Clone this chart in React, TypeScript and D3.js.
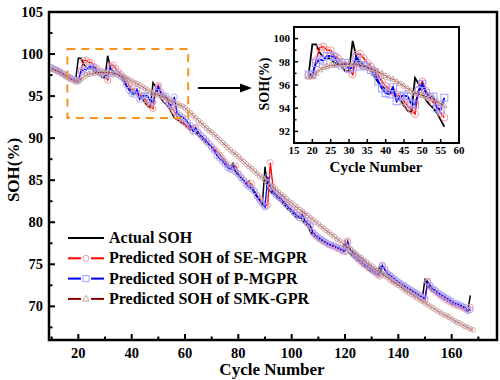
import React from 'react';
import * as d3 from 'd3';

const START_CYCLE = 10;

const actualSOH = [
  98.3, 98.2, 98.0, 97.9, 97.7, 97.5, 97.3, 97.2, 97.0, 96.9,
  99.5, 99.5, 98.8, 98.4, 98.3, 98.3, 97.9, 97.8, 97.6, 97.2,
  97.2, 99.8, 98.4, 98.0, 97.7, 97.5, 97.2, 96.7, 96.2, 95.9,
  95.6, 95.4, 95.3, 95.0, 94.7, 94.2, 93.8, 93.6, 96.6, 96.1,
  95.4, 94.7, 94.3, 94.0, 93.6, 93.0, 92.4, 92.2, 92.0, 91.8,
  91.6, 91.3, 91.0, 91.4, 90.7, 90.4, 90.1, 89.8, 89.5, 89.2,
  89.0, 88.7, 88.4, 88.1, 87.7, 87.3, 86.9, 86.5, 87.0, 86.0,
  85.6, 85.3, 85.0, 84.6, 84.9, 84.0, 83.5, 83.0, 82.6, 82.1,
  86.6, 84.0, 83.7, 83.4, 83.1, 82.8, 82.5, 82.2, 81.8, 81.5,
  81.2, 80.9, 80.5, 80.9, 80.2, 79.9, 79.6, 78.9, 78.5, 78.2,
  78.0, 77.8, 77.6, 77.4, 77.3, 77.2, 77.0, 76.9, 76.8, 76.6,
  77.7, 76.5, 76.2, 75.9, 75.6, 75.4, 75.1, 74.8, 74.6, 74.3,
  74.1, 73.9, 73.7, 74.8, 73.9, 73.7, 73.5, 73.3, 73.0, 72.8,
  72.6, 72.4, 72.2, 72.0, 71.8, 71.6, 71.4, 71.3, 71.1, 70.9,
  73.3, 72.4, 72.1, 71.8, 71.6, 71.3, 71.1, 70.9, 70.7, 70.5,
  70.3, 70.2, 70.0, 69.9, 69.8, 69.6, 69.4, 71.3,
];

const seMgpr = [
  98.3, 98.2, 98.0, 97.9, 97.7, 97.5, 97.3, 97.2, 97.0, 96.8,
  96.9, 98.1, 99.2, 99.3, 99.0, 99.0, 98.5, 98.3, 98.0, 97.7,
  97.4, 96.9, 98.6, 98.7, 98.3, 97.9, 97.6, 97.2, 96.8, 96.3,
  95.9, 95.6, 95.4, 95.2, 95.0, 94.6, 94.2, 93.9, 93.5, 95.6,
  96.3, 95.5, 94.9, 94.5, 94.2, 93.6, 93.2, 92.6, 92.3, 92.0,
  91.8, 91.5, 91.2, 90.9, 91.3, 90.6, 90.3, 90.0, 89.6, 89.3,
  89.0, 88.7, 88.4, 88.0, 87.6, 87.2, 86.8, 86.4, 86.2, 86.7,
  85.8, 85.4, 85.0, 84.7, 84.4, 84.6, 83.7, 83.2, 82.8, 82.3,
  82.0, 82.0, 87.1, 84.2, 83.5, 83.1, 82.8, 82.5, 82.1, 81.8,
  81.5, 81.2, 80.8, 80.5, 81.0, 80.1, 79.8, 79.5, 78.7, 78.4,
  78.1, 77.9, 77.7, 77.5, 77.3, 77.2, 77.1, 76.9, 76.8, 76.6,
  76.5, 77.8, 76.7, 76.2, 75.9, 75.6, 75.3, 75.0, 74.8, 74.5,
  74.3, 74.1, 73.8, 73.6, 74.8, 74.4, 73.8, 73.5, 73.2, 73.0,
  72.8, 72.6, 72.4, 72.2, 72.0, 71.8, 71.6, 71.4, 71.2, 71.0,
  70.8, 73.0, 72.3, 72.0, 71.7, 71.5, 71.2, 71.0, 70.8, 70.6,
  70.4, 70.2, 70.1, 70.0, 69.9, 69.7, 69.5, 69.9,
];

const pMgpr = [
  98.4, 98.2, 98.1, 97.9, 97.7, 97.5, 97.3, 97.1, 97.0, 96.9,
  96.9, 97.9, 98.2, 98.1, 98.5, 98.5, 98.4, 97.9, 97.7, 97.9,
  97.4, 97.5, 98.4, 97.6, 97.7, 97.6, 97.3, 97.1, 96.3, 95.7,
  95.3, 95.2, 95.8, 94.6, 95.0, 95.1, 95.0, 94.4, 94.3, 95.5,
  96.1, 95.3, 95.0, 95.0, 94.0, 93.9, 94.9, 93.0, 92.7, 92.5,
  92.3, 91.9, 91.5, 90.8, 91.2, 90.7, 90.3, 90.0, 89.7, 89.3,
  88.9, 88.5, 87.9, 87.6, 87.3, 86.9, 86.5, 86.3, 86.6, 86.0,
  85.7, 85.3, 85.0, 84.5, 84.2, 84.0, 83.7, 83.1, 82.6, 82.2,
  81.8, 85.4, 84.2, 83.6, 83.3, 83.0, 82.8, 82.4, 82.1, 81.7,
  81.5, 81.1, 80.8, 80.5, 80.9, 80.2, 79.9, 79.6, 78.8, 78.5,
  78.2, 78.0, 77.8, 77.6, 77.4, 77.3, 77.2, 77.0, 76.9, 76.7,
  76.6, 77.6, 76.7, 76.3, 76.0, 75.7, 75.5, 75.2, 74.9, 74.7,
  74.4, 74.2, 74.0, 73.8, 74.9, 74.3, 73.9, 73.7, 73.4, 73.2,
  72.9, 72.7, 72.5, 72.3, 72.1, 71.9, 71.7, 71.5, 71.3, 71.1,
  70.9, 72.9, 72.5, 72.1, 71.9, 71.6, 71.4, 71.2, 71.0, 70.8,
  70.6, 70.4, 70.3, 70.2, 70.0, 69.9, 69.5, 69.6,
];

const smkGpr = [
  98.2, 98.1, 98.0, 97.8, 97.6, 97.4, 97.2, 97.0, 96.9, 96.7,
  96.7, 97.0, 97.3, 97.5, 97.6, 97.7, 97.7, 97.8, 97.8, 97.8,
  97.8, 97.8, 97.8, 97.7, 97.6, 97.5, 97.4, 97.3, 97.1, 97.0,
  96.8, 96.6, 96.5, 96.3, 96.1, 95.9, 95.7, 95.5, 95.3, 95.2,
  95.1, 95.0, 94.9, 94.8, 94.6, 94.4, 94.2, 94.1, 93.9, 93.8,
  93.6, 93.3, 93.0, 92.7, 92.4, 92.1, 91.8, 91.5, 91.2, 90.9,
  90.7, 90.4, 90.1, 89.8, 89.5, 89.2, 88.9, 88.6, 88.3, 88.1,
  87.8, 87.5, 87.2, 86.9, 86.6, 86.4, 86.1, 85.8, 85.5, 85.3,
  85.0, 84.7, 84.4, 84.2, 83.9, 83.6, 83.3, 83.1, 82.8, 82.5,
  82.3, 82.0, 81.8, 81.5, 81.3, 81.0, 80.8, 80.5, 80.3, 80.0,
  79.8, 79.5, 79.3, 79.0, 78.8, 78.5, 78.3, 78.0, 77.8, 77.5,
  77.3, 77.0, 76.8, 76.5, 76.3, 76.0, 75.8, 75.5, 75.3, 75.0,
  74.8, 74.5, 74.3, 74.1, 73.8, 73.6, 73.4, 73.1, 72.9, 72.7,
  72.5, 72.3, 72.0, 71.8, 71.6, 71.4, 71.2, 71.0, 70.8, 70.6,
  70.4, 70.2, 70.0, 69.8, 69.6, 69.4, 69.2, 69.0, 68.9, 68.7,
  68.5, 68.3, 68.1, 68.0, 67.8, 67.6, 67.5, 67.3, 67.2,
];

const mainXTicks = [20, 40, 60, 80, 100, 120, 140, 160];
const mainXMinor = [10, 30, 50, 70, 90, 110, 130, 150, 170];
const mainYTicks = [70, 75, 80, 85, 90, 95, 100, 105];
const mainYMinor = [67.5, 72.5, 77.5, 82.5, 87.5, 92.5, 97.5, 102.5];
const insetXTicks = [15, 20, 25, 30, 35, 40, 45, 50, 55, 60];
const insetYTicks = [92, 94, 96, 98, 100];
const insetYMinor = [91, 93, 95, 97, 99];
const zoomBox = { x0: 15.9, x1: 61.2, y0: 92.4, y1: 100.6 };
const insetRange = [19, 56];

const legendLabels = [
  'Actual SOH',
  'Predicted SOH of SE-MGPR',
  'Predicted SOH of P-MGPR',
  'Predicted SOH of SMK-GPR',
];

const FONT = '"Liberation Serif", "DejaVu Serif", serif';

type P = [number, number];
const toPts = (arr: number[]): P[] => arr.map((v, i) => [START_CYCLE + i, v]);

export default function App() {
  const x = d3.scaleLinear().domain([9, 177]).range([49, 497]);
  const y = d3.scaleLinear().domain([66, 105]).range([340, 12]);
  const xi = d3.scaleLinear().domain([15, 60]).range([294, 459]);
  const yi = d3.scaleLinear().domain([91, 101]).range([143, 27]);

  const act = toPts(actualSOH);
  const se = toPts(seMgpr);
  const pm = toPts(pMgpr);
  const smk = toPts(smkGpr);

  const lineMain = d3.line<P>().x(d => x(d[0])).y(d => y(d[1]));
  const lineIn = d3.line<P>().x(d => xi(d[0])).y(d => yi(d[1]));
  const sub = (pts: P[]) => pts.filter(p => p[0] >= insetRange[0] && p[0] <= insetRange[1]);

  const redC = '#ff0000', redM = '#f49a9a';
  const blueC = '#0000ff', blueM = '#a0a0ff';
  const brownC = '#800000', brownM = '#c9a0a0';

  const tri = (cx: number, cy: number, s: number) =>
    `M${cx},${cy - s}L${cx + s * 0.9},${cy + s * 0.6}L${cx - s * 0.9},${cy + s * 0.6}Z`;

  const txt: React.CSSProperties = { fontFamily: FONT, fontWeight: 700 };

  return (
    <svg width={500} height={380} style={{ position: 'absolute', left: 0, top: 0, background: '#fff', fontFamily: FONT, fontWeight: 700 }}>
      <rect x={0} y={0} width={500} height={380} fill="#fff" />

      {/* main series */}
      <path d={lineMain(act) || ''} fill="none" stroke="#000" strokeWidth={1.5} />
      <path d={lineMain(se) || ''} fill="none" stroke={redC} strokeWidth={1.3} />
      {se.map((p, i) => (
        <circle key={'rs' + i} cx={x(p[0])} cy={y(p[1])} r={3} fill="none" stroke={redM} strokeWidth={0.9} />
      ))}
      <path d={lineMain(pm) || ''} fill="none" stroke={blueC} strokeWidth={1.3} />
      {pm.map((p, i) => (
        <circle key={'bs' + i} cx={x(p[0])} cy={y(p[1])} r={3} fill="none" stroke={blueM} strokeWidth={0.9} />
      ))}
      <path d={lineMain(smk) || ''} fill="none" stroke={brownC} strokeWidth={0.8} />
      {smk.map((p, i) => (
        <circle key={'ks' + i} cx={x(p[0])} cy={y(p[1])} r={2.4} fill="none" stroke={brownM} strokeWidth={0.9} />
      ))}

      {/* zoom box */}
      <rect x={x(zoomBox.x0)} y={y(zoomBox.y1)} width={x(zoomBox.x1) - x(zoomBox.x0)}
        height={y(zoomBox.y0) - y(zoomBox.y1)} fill="none" stroke="#f7931e" strokeWidth={2}
        strokeDasharray="8,6" />
      {/* arrow */}
      <line x1={198} y1={88} x2={242} y2={88} stroke="#000" strokeWidth={2} />
      <path d="M240,83.5L252,88L240,92.5Z" fill="#000" />

      {/* main frame and axes */}
      <rect x={49} y={12} width={448} height={328} fill="none" stroke="#000" strokeWidth={2.5} />
      {mainXTicks.map(t => (
        <g key={'xt' + t}>
          <line x1={x(t)} x2={x(t)} y1={340} y2={334} stroke="#000" strokeWidth={2} />
          <text x={x(t)} y={358} textAnchor="middle" fontSize={14.5} style={txt}>{t}</text>
        </g>
      ))}
      {mainXMinor.map(t => (
        <line key={'xm' + t} x1={x(t)} x2={x(t)} y1={340} y2={336.5} stroke="#000" strokeWidth={2} />
      ))}
      {mainYTicks.map(t => (
        <g key={'yt' + t}>
          <line x1={49} x2={55} y1={y(t)} y2={y(t)} stroke="#000" strokeWidth={2} />
          <text x={43} y={y(t) + 5} textAnchor="end" fontSize={14.5} style={txt}>{t}</text>
        </g>
      ))}
      {mainYMinor.map(t => (
        <line key={'ym' + t} x1={49} x2={52.5} y1={y(t)} y2={y(t)} stroke="#000" strokeWidth={2} />
      ))}
      <text x={272} y={375} textAnchor="middle" fontSize={17} style={txt}>Cycle Number</text>
      <text transform="translate(19,170) rotate(-90)" textAnchor="middle" fontSize={17} style={txt}>SOH(%)</text>

      {/* legend */}
      {legendLabels.map((lab, i) => {
        const ly = 238 + i * 20.3;
        const cols = ['#000', redC, blueC, brownC];
        return (
          <g key={'lg' + i}>
            {i === 0 ? (
              <line x1={68} x2={104} y1={ly} y2={ly} stroke="#000" strokeWidth={2} />
            ) : (
              <g>
                <line x1={68} x2={81} y1={ly} y2={ly} stroke={cols[i]} strokeWidth={2} />
                <line x1={91} x2={104} y1={ly} y2={ly} stroke={cols[i]} strokeWidth={2} />
                {i === 1 && <circle cx={86} cy={ly} r={3} fill="#fff" stroke={redM} strokeWidth={1} />}
                {i === 2 && <rect x={83} y={ly - 3} width={6} height={6} fill="#fff" stroke={blueM} strokeWidth={1} />}
                {i === 3 && <path d={tri(86, ly, 3.5)} fill="#fff" stroke={brownM} strokeWidth={1} />}
              </g>
            )}
            <text x={109} y={ly + 5} fontSize={16} style={txt}>{lab}</text>
          </g>
        );
      })}

      {/* inset */}
      <rect x={294} y={27} width={165} height={116} fill="#fff" />
      <defs>
        <clipPath id="insetClip">
          <rect x={294} y={27} width={165} height={116} />
        </clipPath>
      </defs>
      <g clipPath="url(#insetClip)">
        <path d={lineIn(sub(act)) || ''} fill="none" stroke="#000" strokeWidth={1.8} />
        <path d={lineIn(sub(se)) || ''} fill="none" stroke={redC} strokeWidth={1.5} />
        {sub(se).map((p, i) => (
          <circle key={'ri' + i} cx={xi(p[0])} cy={yi(p[1])} r={3.5} fill="none" stroke={redM} strokeWidth={1} />
        ))}
        <path d={lineIn(sub(pm)) || ''} fill="none" stroke={blueC} strokeWidth={1.8} />
        {sub(pm).map((p, i) => (
          <rect key={'bi' + i} x={xi(p[0]) - 3.5} y={yi(p[1]) - 3.5} width={7} height={7} fill="none"
            stroke={blueM} strokeWidth={1} />
        ))}
        <path d={lineIn(sub(smk)) || ''} fill="none" stroke={brownC} strokeWidth={0.8} />
        {sub(smk).map((p, i) => (
          <path key={'ki' + i} d={tri(xi(p[0]), yi(p[1]), 3.2)} fill="none" stroke={brownM} strokeWidth={1} />
        ))}
      </g>
      <rect x={294} y={27} width={165} height={116} fill="none" stroke="#000" strokeWidth={2} />
      {insetXTicks.map(t => (
        <g key={'ixt' + t}>
          <line x1={xi(t)} x2={xi(t)} y1={143} y2={139} stroke="#000" strokeWidth={1.5} />
          <text x={xi(t)} y={154} textAnchor="middle" fontSize={11} style={txt}>{t}</text>
        </g>
      ))}
      {insetYTicks.map(t => (
        <g key={'iyt' + t}>
          <line x1={294} x2={298} y1={yi(t)} y2={yi(t)} stroke="#000" strokeWidth={1.5} />
          <text x={290} y={yi(t) + 3.8} textAnchor="end" fontSize={11} style={txt}>{t}</text>
        </g>
      ))}
      {insetYMinor.map(t => (
        <line key={'iym' + t} x1={294} x2={296.5} y1={yi(t)} y2={yi(t)} stroke="#000" strokeWidth={1.5} />
      ))}
      <text x={376} y={172} textAnchor="middle" fontSize={15} style={txt}>Cycle Number</text>
      <text transform="translate(269,84) rotate(-90)" textAnchor="middle" fontSize={14} style={txt}>SOH(%)</text>
    </svg>
  );
}
